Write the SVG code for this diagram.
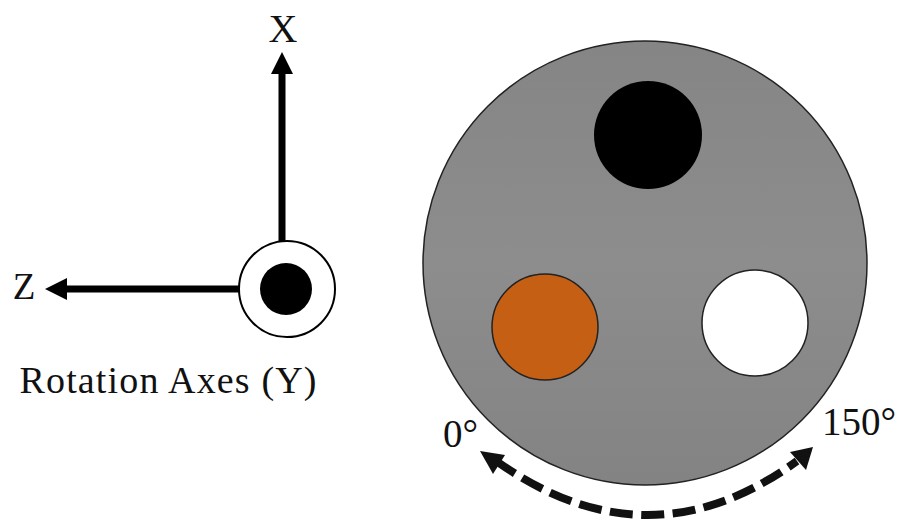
<svg xmlns="http://www.w3.org/2000/svg" width="898" height="520" viewBox="0 0 898 520">
<style>
text{font-family:"Liberation Serif","Times New Roman",serif;fill:#111}
.ax{stroke:#000;stroke-width:7;fill:none}
.hole{stroke:#222;stroke-width:1.5}
</style>
<defs>
<linearGradient id="g" x1="0" y1="0" x2="0" y2="1"><stop offset="0" stop-color="#858585"/><stop offset="0.5" stop-color="#8d8d8d"/><stop offset="1" stop-color="#838383"/></linearGradient>
</defs>
<rect width="898" height="520" fill="#fff"/>
<g id="connectors">
<path class="ax" d="M282 242V72"/>
<path d="M282 52L293 74H271Z" fill="#000"/>
<path class="ax" d="M240 289H64"/>
<path d="M45 289L67 278V300Z" fill="#000"/>
<path d="M499 463Q650 568 797 461" fill="none" stroke="#111" stroke-width="8" stroke-dasharray="23 8.5" stroke-dashoffset="4"/>
<path d="M480 451L505 455L493 474Z" fill="#111"/>
<path d="M813 447L806 470L790 452Z" fill="#111"/>
</g>
<g id="axis-origin">
<circle cx="287" cy="289" r="48" fill="#fff" stroke="#000" stroke-width="2"/>
<circle cx="286" cy="289" r="26" fill="#000"/>
</g>
<g id="disc">
<circle cx="645" cy="263" r="222" fill="url(#g)" stroke="#222" stroke-width="1.5"/>
</g>
<g id="hole-black"><circle cx="648" cy="135" r="54" fill="#000"/></g>
<g id="hole-orange"><circle class="hole" cx="545" cy="327" r="53" fill="#c45f14"/></g>
<g id="hole-white"><circle class="hole" cx="755" cy="323" r="53" fill="#fff"/></g>
<g id="labels">
<text x="283" y="42" font-size="40" text-anchor="middle">X</text>
<text x="24" y="299" font-size="37" text-anchor="middle">Z</text>
<text x="168" y="393" font-size="38" text-anchor="middle" textLength="297">Rotation Axes (Y)</text>
<text x="443" y="447" font-size="39">0°</text>
<text x="822" y="435" font-size="39">150°</text>
</g>
</svg>
